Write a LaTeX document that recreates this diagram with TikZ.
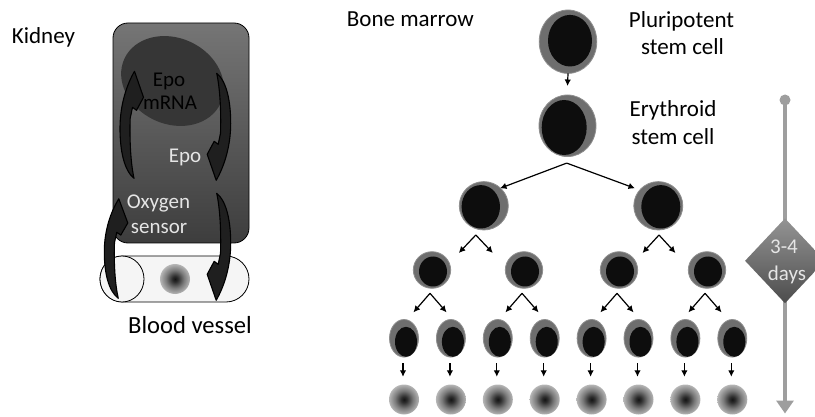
\documentclass[tikz,border=0pt]{standalone}
\usepackage{fontspec}
\setmainfont{Carlito}
\usetikzlibrary{shapes.geometric,arrows.meta,calc}

\definecolor{kidtop}{gray}{0.46}
\definecolor{kidbot}{gray}{0.24}
\definecolor{mrnagray}{gray}{0.21}
\definecolor{vesselgray}{gray}{0.96}
\definecolor{cellgray}{gray}{0.43}
\definecolor{cellrim}{gray}{0.56}
\definecolor{timegray}{gray}{0.62}
\definecolor{lighttext}{gray}{0.90}

% red blood cell: dark core fading out to the rim
\pgfdeclareradialshading{rbc}{\pgfpoint{0bp}{0bp}}{%
  color(0bp)=(black!92); color(5bp)=(black!82); color(15bp)=(black!52);
  color(28bp)=(black!22); color(40bp)=(black!9); color(50bp)=(black!4)}

\tikzset{
  lbl/.style={font=\fontsize{23}{28}\selectfont, inner sep=0pt, anchor=base},
  klbl/.style={font=\fontsize{21}{25}\selectfont, inner sep=0pt, anchor=base},
  cellout/.style={ellipse, fill=cellgray, draw=cellrim, line width=0.8pt, inner sep=0pt, outer sep=0pt},
  cellcore/.style={fill=black!95},
  rbcnode/.style={circle, minimum size=30pt, inner sep=0pt, shading=rbc},
  tarrow/.style={-{Latex[length=6.5pt,width=6.5pt]}, line width=1.2pt},
  karrow/.style={left color=black!88, middle color=black!58, right color=black!88,
                 draw=black, line width=1.1pt, line join=round},
}

% stem/progenitor cell: name, x, y, width, height, core dx, core dy, core rx, core ry
\newcommand\mkcell[9]{%
  \node[cellout, minimum width=#4pt, minimum height=#5pt] (#1) at (#2,#3) {};
  \fill[cellcore] ($(#1)+(#6,#7)$) ellipse [x radius=#8pt, y radius=#9pt];}

% curved block arrow inside the kidney (tail at origin, head 107 below)
\newcommand\kidarrow[1]{%
  \draw[karrow,#1] (0,0) .. controls (10,8) and (14,28) .. (14,50)
    .. controls (14,74) and (7,94) .. (-0.5,107) -- (-9.5,81) -- (-2.5,68)
    -- (1.5,71) -- (3.8,60) .. controls (4.5,40) and (3.5,16) .. (0,0) -- cycle;}

\begin{document}
\begin{tikzpicture}[x=1pt, y=-1pt]
\useasboundingbox (0,0) rectangle (815,417);

% ---------------- kidney ----------------
\node[lbl, anchor=base west] (kidney) at (11.7,44) {Kidney};

% blood vessel (cylinder seen from the side)
\draw[fill=vesselgray, line width=0.8pt, rounded corners=23pt] (100,256) rectangle (249,302);
\draw[fill=vesselgray, line width=0.8pt] (122,279) ellipse [x radius=22pt, y radius=23pt];
\node[rbcnode] (vcell) at (175,279) {};
\node[lbl, font=\fontsize{24.6}{29}\selectfont] (vessel) at (190,334) {Blood vessel};

% kidney cell
\shade[draw=black, line width=0.8pt, rounded corners=15pt, top color=kidtop, bottom color=kidbot]
  (113,23) rectangle (249,243);
\fill[mrnagray, rotate around={-25:(172.5,81)}] (172.5,81) ellipse [x radius=53pt, y radius=43pt];

\node[klbl] (epo1) at (169,86.5) {Epo};
\node[klbl] (mrna) at (170,109.5) {mRNA};
\node[klbl, text=lighttext] (epo2) at (185,163) {Epo};
\node[klbl, text=lighttext] (oxy1) at (158.5,209) {Oxygen};
\node[klbl, text=lighttext] (oxy2) at (159,234) {sensor};

\kidarrow{shift={(216.7,73.3)}}
\kidarrow{shift={(216.7,193.3)}}
\kidarrow{shift={(134,178.3)}, rotate=180}
\kidarrow{shift={(118.3,298.3)}, rotate=180, yscale=0.93}

% ---------------- bone marrow ----------------
\node[lbl, anchor=base west] (marrow) at (346.7,27) {Bone marrow};

\mkcell{P}{568}{41.7}{57.6}{63.4}{2}{-1}{22}{25.8}
\mkcell{E}{567.5}{125.8}{57}{61.6}{-3.3}{1.7}{22.5}{27.5}

\node[lbl] (pl1) at (681.5,27.3) {Pluripotent};
\node[lbl] (pl2) at (682.5,55) {stem cell};
\node[lbl] (er1) at (673,116.7) {Erythroid};
\node[lbl] (er2) at (673,145) {stem cell};

\draw[tarrow] (P.south) -- ($(E.north)+(0,-9)$);

% second generation
\mkcell{A}{483.8}{205.8}{49}{48.4}{-3}{1}{19.2}{21.7}
\mkcell{B}{658.3}{205.8}{49}{48.4}{2.5}{1}{19.5}{21.7}
\coordinate (e0) at ($(E.south)+(-0.8,6.5)$);
\draw[tarrow] (e0) -- ($(A)+(16.2,-17.5)$);
\draw[tarrow] (e0) -- ($(B)+(-23.3,-17.5)$);

% third generation
\mkcell{C1}{432}{270}{37.4}{36.6}{1}{1.5}{14}{15}
\mkcell{C2}{524}{270}{37.4}{36.6}{1}{1.5}{14}{15}
\mkcell{C3}{619}{270}{37.4}{36.6}{1}{1.5}{14}{15}
\mkcell{C4}{707}{270}{37.4}{36.6}{1}{1.5}{14}{15}
\coordinate (a0) at ($(A.south)+(-8,5)$);
\coordinate (b0) at ($(B.south)+(0.7,5)$);
\draw[tarrow] (a0) -- ++(-17,18);
\draw[tarrow] (a0) -- ++(17,18);
\draw[tarrow] (b0) -- ++(-16.5,18);
\draw[tarrow] (b0) -- ++(16.5,18);

% fourth generation and mature red cells
\foreach \i/\x in {1/404,2/450.9,3/497.8,4/544.7,5/591.6,6/638.5,7/685.4,8/732.3}{
  \mkcell{D\i}{\x}{338.3}{29}{37.6}{2}{3.5}{11}{15}
  \node[rbcnode] (R\i) at (\x,399.5) {};
  \draw[tarrow] ($(D\i.south)+(-1,6.2)$) -- ($(R\i.north)+(-1,-7.5)$);
}
\foreach \c in {C1,C2,C3,C4}{
  \coordinate (\c0) at ($(\c.south)+(-2,5)$);
  \draw[tarrow] (\c0) -- ++(-16.5,19);
  \draw[tarrow] (\c0) -- ++(16.5,19);
}

% ---------------- time axis ----------------
\node[circle, fill=timegray, minimum size=11pt, inner sep=0pt] (T0) at (785,100) {};
\coordinate (T1) at (785,413.5);
\draw[timegray, line width=3.5pt, -{Triangle[length=13pt,width=17pt]}] (T0.center) -- (T1);
\node[diamond, minimum width=80pt, minimum height=85pt, inner sep=0pt,
      top color=black!42, bottom color=black!70] (days) at (785,260.8) {};
\node[klbl, text=lighttext] (d1) at (784,254) {3-4};
\node[klbl, text=lighttext] (d2) at (787,280) {days};
\end{tikzpicture}
\end{document}
